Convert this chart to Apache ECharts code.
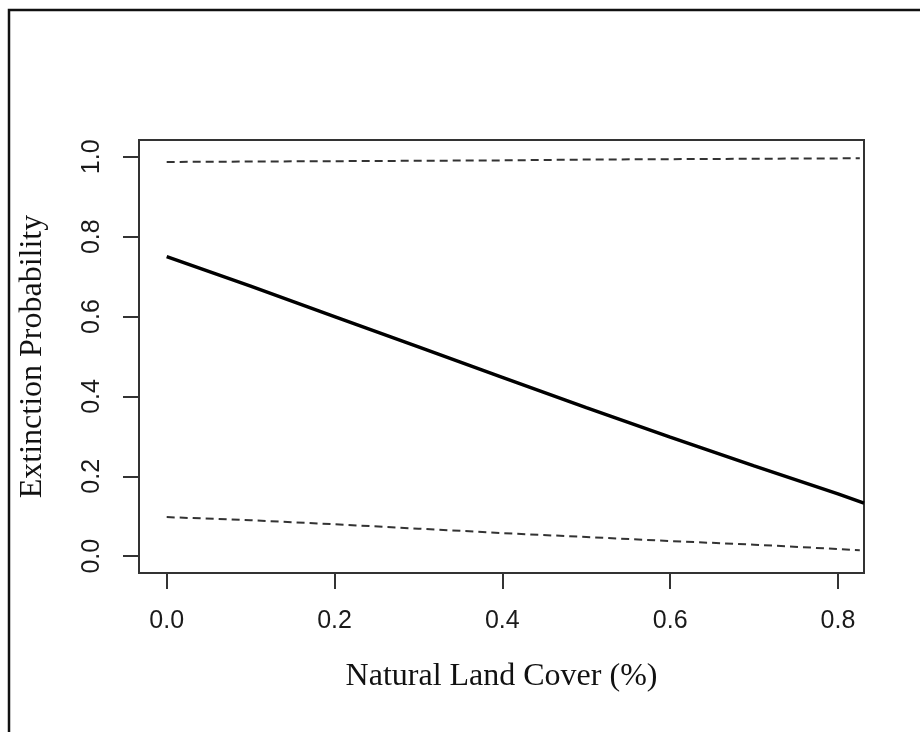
<!DOCTYPE html>
<html>
<head>
<meta charset="utf-8">
<script src="https://cdn.jsdelivr.net/npm/echarts@6/dist/echarts.min.js"></script>
<style>
  html, body { margin: 0; padding: 0; background: #fff; }
  #chart { width: 920px; height: 732px; }
</style>
</head>
<body>
<div id="chart"></div>
<script>
// values
var landCover = [0, 0.1, 0.2, 0.3, 0.4, 0.5, 0.6, 0.7, 0.8, 0.831];
var fitted    = [0.750, 0.676, 0.600, 0.524, 0.448, 0.372, 0.298, 0.226, 0.156, 0.133];
var ciCover   = [0, 0.1, 0.2, 0.3, 0.4, 0.5, 0.6, 0.7, 0.8, 0.826];
var upperCI   = [0.987, 0.988, 0.989, 0.990, 0.991, 0.993, 0.994, 0.995, 0.996, 0.996];
var lowerCI   = [0.098, 0.090, 0.080, 0.069, 0.058, 0.048, 0.038, 0.029, 0.018, 0.015];
var xTicks = [0, 0.2, 0.4, 0.6, 0.8];
var yTicks = [0, 0.2, 0.4, 0.6, 0.8, 1.0];

function pairs(xs, ys) {
  return xs.map(function (x, i) { return [x, ys[i]]; });
}

var chart = echarts.init(document.getElementById('chart'));

var tickFont = { fontFamily: 'Liberation Sans', fontSize: 25, color: '#1a1a1a' };
var titleFont = { fontFamily: 'Liberation Serif', fontSize: 32, color: '#111' };

option = {
  animation: false,
  backgroundColor: '#fff',
  grid: {
    left: 139, top: 140, right: 56, bottom: 159,
    show: true, borderColor: '#333', borderWidth: 2, backgroundColor: 'transparent'
  },
  graphic: [{
    type: 'rect',
    shape: { x: 9, y: 10, width: 1000, height: 1000 },
    style: { fill: null, stroke: '#111', lineWidth: 2.5 }
  }],
  xAxis: {
    type: 'value',
    min: -0.033, max: 0.831,
    name: 'Natural Land Cover (%)',
    nameLocation: 'middle',
    nameGap: 88,
    nameTextStyle: titleFont,
    splitLine: { show: false },
    axisLine: { show: false, onZero: false },
    axisTick: { show: true, inside: false, length: 16, customValues: xTicks, lineStyle: { color: '#333', width: 2 } },
    axisLabel: Object.assign({
      customValues: xTicks, margin: 36,
      formatter: function (v) { return v.toFixed(1); }
    }, tickFont)
  },
  yAxis: {
    type: 'value',
    min: -0.042, max: 1.042,
    name: 'Extinction Probability',
    nameLocation: 'middle',
    nameGap: 90,
    nameTextStyle: titleFont,
    splitLine: { show: false },
    axisLine: { show: false, onZero: false },
    axisTick: { show: true, inside: false, length: 16, customValues: yTicks, lineStyle: { color: '#333', width: 2 } },
    axisLabel: Object.assign({
      customValues: yTicks, margin: 34, rotate: 90,
      formatter: function (v) { return v.toFixed(1); }
    }, tickFont)
  },
  series: [
    {
      name: 'Fitted',
      type: 'line',
      data: pairs(landCover, fitted),
      showSymbol: false,
      clip: true,
      lineStyle: { color: '#000', width: 3.5 }
    },
    {
      name: 'Upper',
      type: 'line',
      data: pairs(ciCover, upperCI),
      showSymbol: false,
      lineStyle: { color: '#333', width: 2, type: [8, 5] }
    },
    {
      name: 'Lower',
      type: 'line',
      data: pairs(ciCover, lowerCI),
      showSymbol: false,
      lineStyle: { color: '#333', width: 2, type: [8, 5] }
    }
  ]
};

chart.setOption(option);
</script>
</body>
</html>
